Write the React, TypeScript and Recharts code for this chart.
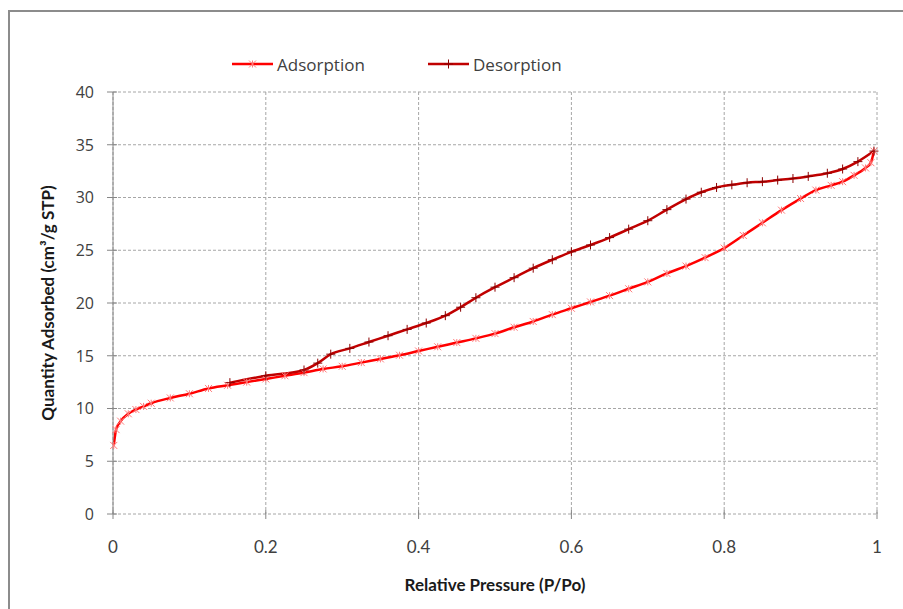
import { LineChart, Line, XAxis, YAxis, CartesianGrid } from "recharts";

const adsorptionP = [
  0.001, 0.004, 0.01, 0.02, 0.03, 0.04, 0.05, 0.075, 0.1, 0.125, 0.15, 0.175,
  0.2, 0.225, 0.25, 0.275, 0.3, 0.325, 0.35, 0.375, 0.4, 0.425, 0.45, 0.475,
  0.5, 0.525, 0.55, 0.575, 0.6, 0.625, 0.65, 0.675, 0.7, 0.725, 0.75, 0.775,
  0.8, 0.825, 0.85, 0.875, 0.9, 0.92, 0.94, 0.955, 0.97, 0.985, 0.992, 0.996,
];
const adsorptionQ = [
  6.5, 8.0, 8.8, 9.5, 9.9, 10.2, 10.5, 11.0, 11.4, 11.9, 12.2, 12.5, 12.8,
  13.1, 13.4, 13.75, 14.0, 14.35, 14.7, 15.05, 15.45, 15.85, 16.25, 16.65,
  17.1, 17.7, 18.25, 18.9, 19.5, 20.1, 20.7, 21.35, 22.0, 22.8, 23.5, 24.3,
  25.2, 26.4, 27.6, 28.8, 29.9, 30.7, 31.15, 31.5, 32.1, 32.8, 33.3, 34.4,
];

const desorptionP = [
  0.153, 0.2, 0.25, 0.268, 0.285, 0.31, 0.335, 0.36, 0.385, 0.41, 0.435,
  0.455, 0.475, 0.5, 0.525, 0.55, 0.575, 0.6, 0.625, 0.65, 0.675, 0.7, 0.725,
  0.75, 0.77, 0.79, 0.81, 0.83, 0.85, 0.87, 0.89, 0.91, 0.935, 0.955, 0.975,
  0.996,
];
const desorptionQ = [
  12.45, 13.1, 13.65, 14.3, 15.15, 15.7, 16.3, 16.9, 17.5, 18.1, 18.8, 19.6,
  20.5, 21.5, 22.4, 23.3, 24.1, 24.85, 25.5, 26.2, 27.0, 27.8, 28.85, 29.85,
  30.5, 30.95, 31.2, 31.4, 31.5, 31.65, 31.8, 32.0, 32.3, 32.7, 33.4, 34.4,
];

const xTicks = [0, 0.2, 0.4, 0.6, 0.8, 1];
const yTicks = [0, 5, 10, 15, 20, 25, 30, 35, 40];

const adsorption = adsorptionP.map((p, i) => ({ p, q: adsorptionQ[i] }));
const desorption = desorptionP.map((p, i) => ({ p, q: desorptionQ[i] }));

const ADS = "#ff0000";
const DES = "#c00000";
const AXIS = "#868686";
const TEXT = "#404040";

function StarDot(props: any) {
  const { cx, cy, index } = props;
  if (cx == null || cy == null) return <g key={`a${index}`} />;
  const s = 3.5;
  return (
    <g key={`a${index}`} stroke="#ff7a7a" strokeWidth={1}>
      <line x1={cx - s} y1={cy - s} x2={cx + s} y2={cy + s} />
      <line x1={cx - s} y1={cy + s} x2={cx + s} y2={cy - s} />
      <line x1={cx} y1={cy - s} x2={cx} y2={cy + s} />
    </g>
  );
}

function PlusDot(props: any) {
  const { cx, cy, index } = props;
  if (cx == null || cy == null) return <g key={`d${index}`} />;
  const s = 4.5;
  return (
    <g key={`d${index}`} stroke="#8b0000" strokeWidth={1}>
      <line x1={cx - s} y1={cy} x2={cx + s} y2={cy} />
      <line x1={cx} y1={cy - s} x2={cx} y2={cy + s} />
    </g>
  );
}

function YTick({ x, y, payload }: any) {
  return (
    <g>
      <line x1={x - 6} x2={x + 4} y1={y} y2={y} stroke={AXIS} />
      <text
        x={x - 19}
        y={y}
        dy="0.36em"
        textAnchor="end"
        fill={TEXT}
        style={{ fontFamily: "Open Sans", fontSize: 16 }}
      >
        {payload.value}
      </text>
    </g>
  );
}

function XTick({ x, y, payload }: any) {
  return (
    <g>
      <line x1={x} x2={x} y1={y - 4} y2={y + 5} stroke={AXIS} />
      <text
        x={x}
        y={y + 39}
        textAnchor="middle"
        fill={TEXT}
        style={{ fontFamily: "Lato", fontSize: 17 }}
      >
        {payload.value}
      </text>
    </g>
  );
}

function YTitle({ viewBox }: any) {
  const cy = viewBox.y + viewBox.height / 2;
  const cx = 54;
  return (
    <text
      x={cx}
      y={cy}
      transform={`rotate(-90 ${cx} ${cy})`}
      textAnchor="middle"
      fill="#1a1a1a"
      style={{ fontFamily: "Lato", fontSize: 17, fontWeight: 700 }}
    >
      Quantity Adsorbed (cm³/g STP)
    </text>
  );
}

function XTitle({ viewBox }: any) {
  const cx = viewBox.x + viewBox.width / 2;
  return (
    <text
      x={cx}
      y={591}
      textAnchor="middle"
      fill="#1a1a1a"
      style={{ fontFamily: "Lato", fontSize: 17, fontWeight: 700 }}
    >
      Relative Pressure (P/Po)
    </text>
  );
}

function LegendItem({ left, color, label, star }: any) {
  return (
    <div
      style={{
        position: "absolute",
        left,
        top: 53,
        display: "flex",
        alignItems: "center",
        height: 22,
      }}
    >
      <svg width={41} height={14} style={{ marginRight: 4 }}>
        <line x1={0} x2={41} y1={7} y2={7} stroke={color} strokeWidth={2.5} />
        {star ? (
          <g stroke="#ff7a7a" strokeWidth={1}>
            <line x1={17} y1={3.5} x2={24} y2={10.5} />
            <line x1={17} y1={10.5} x2={24} y2={3.5} />
            <line x1={20.5} y1={3.5} x2={20.5} y2={10.5} />
          </g>
        ) : (
          <g stroke="#8b0000" strokeWidth={1}>
            <line x1={16} y1={7} x2={25} y2={7} />
            <line x1={20.5} y1={2.5} x2={20.5} y2={11.5} />
          </g>
        )}
      </svg>
      <span style={{ fontFamily: "Open Sans", fontSize: 17, color: TEXT }}>
        {label}
      </span>
    </div>
  );
}

export default function App() {
  return (
    <div
      style={{
        position: "absolute",
        left: 0,
        top: 0,
        width: 903,
        height: 609,
        background: "#fff",
        overflow: "hidden",
      }}
    >
      <div
        style={{
          position: "absolute",
          left: 8,
          top: 10,
          width: 895,
          height: 599,
          borderLeft: "2px solid #8c8c8c",
          borderTop: "2px solid #8c8c8c",
          boxSizing: "border-box",
        }}
      />
      <div style={{ position: "absolute", left: 0, top: 0 }}>
        <LineChart
          width={903}
          height={609}
          margin={{ top: 92, right: 26, bottom: 65, left: 53 }}
        >
          <CartesianGrid stroke="#a6a6a6" strokeDasharray="3 2" />
          <XAxis
            type="number"
            dataKey="p"
            domain={[0, 1]}
            ticks={xTicks}
            allowDuplicatedCategory={false}
            axisLine={false}
            tickLine={false}
            tickSize={0}
            tickMargin={0}
            height={30}
            tick={<XTick />}
            label={<XTitle />}
          />
          <YAxis
            type="number"
            dataKey="q"
            domain={[0, 40]}
            ticks={yTicks}
            axisLine={{ stroke: AXIS }}
            tickLine={false}
            tickSize={0}
            tickMargin={0}
            width={60}
            tick={<YTick />}
            label={<YTitle />}
          />
          <Line
            data={adsorption}
            dataKey="q"
            type="monotone"
            stroke={ADS}
            strokeWidth={2.5}
            dot={(p: any) => <StarDot {...p} />}
            activeDot={false}
            isAnimationActive={false}
          />
          <Line
            data={desorption}
            dataKey="q"
            type="monotone"
            stroke={DES}
            strokeWidth={2.5}
            dot={(p: any) => <PlusDot {...p} />}
            activeDot={false}
            isAnimationActive={false}
          />
        </LineChart>
      </div>
      <LegendItem left={232} color={ADS} label="Adsorption" star />
      <LegendItem left={428} color={DES} label="Desorption" />
    </div>
  );
}
